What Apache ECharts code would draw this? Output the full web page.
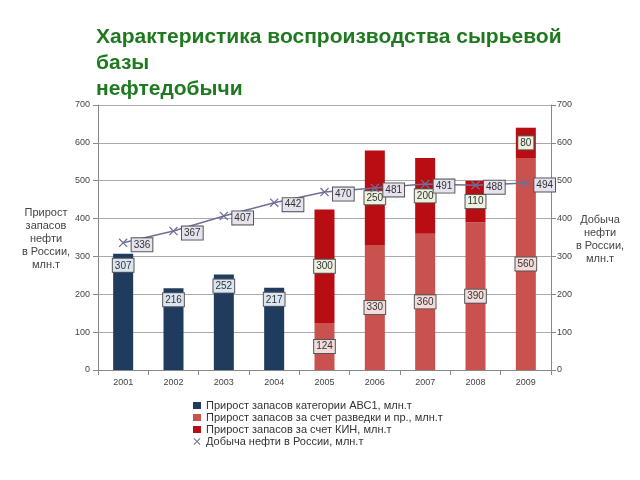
<!DOCTYPE html>
<html><head><meta charset="utf-8">
<script src="https://cdn.jsdelivr.net/npm/echarts@6/dist/echarts.min.js"></script>
<style>html,body{margin:0;padding:0;background:#fff}#c{width:640px;height:480px}</style>
</head><body><div id="c"></div>
<script>
const years = ['2001','2002','2003','2004','2005','2006','2007','2008','2009'];
const abc1 = [307, 216, 252, 217, null, null, null, null, null];
const razvedka = [null, null, null, null, 124, 330, 360, 390, 560];
const kin = [null, null, null, null, 300, 250, 200, 110, 80];
const dobycha = [336, 367, 407, 442, 470, 481, 491, 488, 494];
const seriesNames = ['Прирост запасов категории АВС1, млн.т','Прирост запасов за счет разведки и пр., млн.т','Прирост запасов за счет КИН, млн.т','Добыча нефти в России, млн.т'];
const leftAxisTitle = 'Прирост\nзапасов\nнефти\nв России,\nмлн.т';
const rightAxisTitle = 'Добыча\nнефти\nв России,\nмлн.т';

const FONT = 'Liberation Sans, Arial, sans-serif';
const crossPath = 'path://M0,1L1,0L10,9L9,10ZM9,0L10,1L1,10L0,9Z';
function boxLabel(bg, pos){
  return {show:true, position:pos, color:'#333', fontSize:10, fontFamily:FONT,
    backgroundColor:bg, borderColor:'#555', borderWidth:1, padding:[2,2,1,2]};
}
const chart = echarts.init(document.getElementById('c'));
chart.setOption({
  animation:false,
  title:{text:'Характеристика воспроизводства сырьевой\nбазы\nнефтедобычи', left:91, top:19,
    textStyle:{color:'#1f7a1f', fontSize:21, fontWeight:'bold', fontFamily:FONT, lineHeight:26}},
  grid:{left:98, right:89, top:105, bottom:110},
  legend:{orient:'vertical', left:188, top:395, itemGap:1, itemWidth:8, itemHeight:7,
    textStyle:{fontSize:11, color:'#333', fontFamily:FONT, lineHeight:11},
    data:[{name:seriesNames[0], icon:'rect'},{name:seriesNames[1], icon:'rect'},{name:seriesNames[2], icon:'rect'},{name:seriesNames[3], icon:crossPath}]},
  xAxis:{type:'category', data:years, boundaryGap:true,
    axisLine:{lineStyle:{color:'#888'}}, axisTick:{show:true, interval:0, lineStyle:{color:'#888'}},
    axisLabel:{color:'#444', fontSize:9, fontFamily:FONT, margin:8}},
  yAxis:[
    {type:'value', min:0, max:700, interval:100, position:'left',
     axisLine:{show:true, lineStyle:{color:'#888'}}, axisTick:{show:true, lineStyle:{color:'#888'}},
     axisLabel:{color:'#444', fontSize:9, fontFamily:FONT, margin:8},
     splitLine:{lineStyle:{color:'#aaa'}}},
    {type:'value', min:0, max:700, interval:100, position:'right',
     axisLine:{show:true, lineStyle:{color:'#888'}}, axisTick:{show:true, lineStyle:{color:'#888'}},
     axisLabel:{color:'#444', fontSize:9, fontFamily:FONT, margin:6},
     splitLine:{show:false}}
  ],
  graphic:[
    {type:'text', x:46, y:206, style:{text:leftAxisTitle, textAlign:'center', fill:'#444', fontSize:11, fontFamily:FONT, lineHeight:13}},
    {type:'text', x:600, y:213, style:{text:rightAxisTitle, textAlign:'center', fill:'#444', fontSize:11, fontFamily:FONT, lineHeight:13}}
  ],
  series:[
    {name:seriesNames[0], type:'bar', stack:'s', data:abc1, barWidth:20,
     itemStyle:{color:'#1f3b5e'}, label:boxLabel('#dbe5f1','insideTop')},
    {name:seriesNames[1], type:'bar', stack:'s', data:razvedka, barWidth:20,
     itemStyle:{color:'#c9524f'}, label:boxLabel('#f2dcdb','inside')},
    {name:seriesNames[2], type:'bar', stack:'s', data:kin, barWidth:20,
     itemStyle:{color:'#b80d12'}, label:boxLabel('#ebf1de','inside')},
    {name:seriesNames[3], type:'line', yAxisIndex:1, data:dobycha,
     lineStyle:{color:'#6f6f9a', width:1.5}, itemStyle:{color:'#6f6f9a'},
     symbol:crossPath, symbolSize:9, z:5,
     label:Object.assign(boxLabel('#e6e2ee','right'),{distance:4, offset:[0,2]})}
  ]
});
</script></body></html>
